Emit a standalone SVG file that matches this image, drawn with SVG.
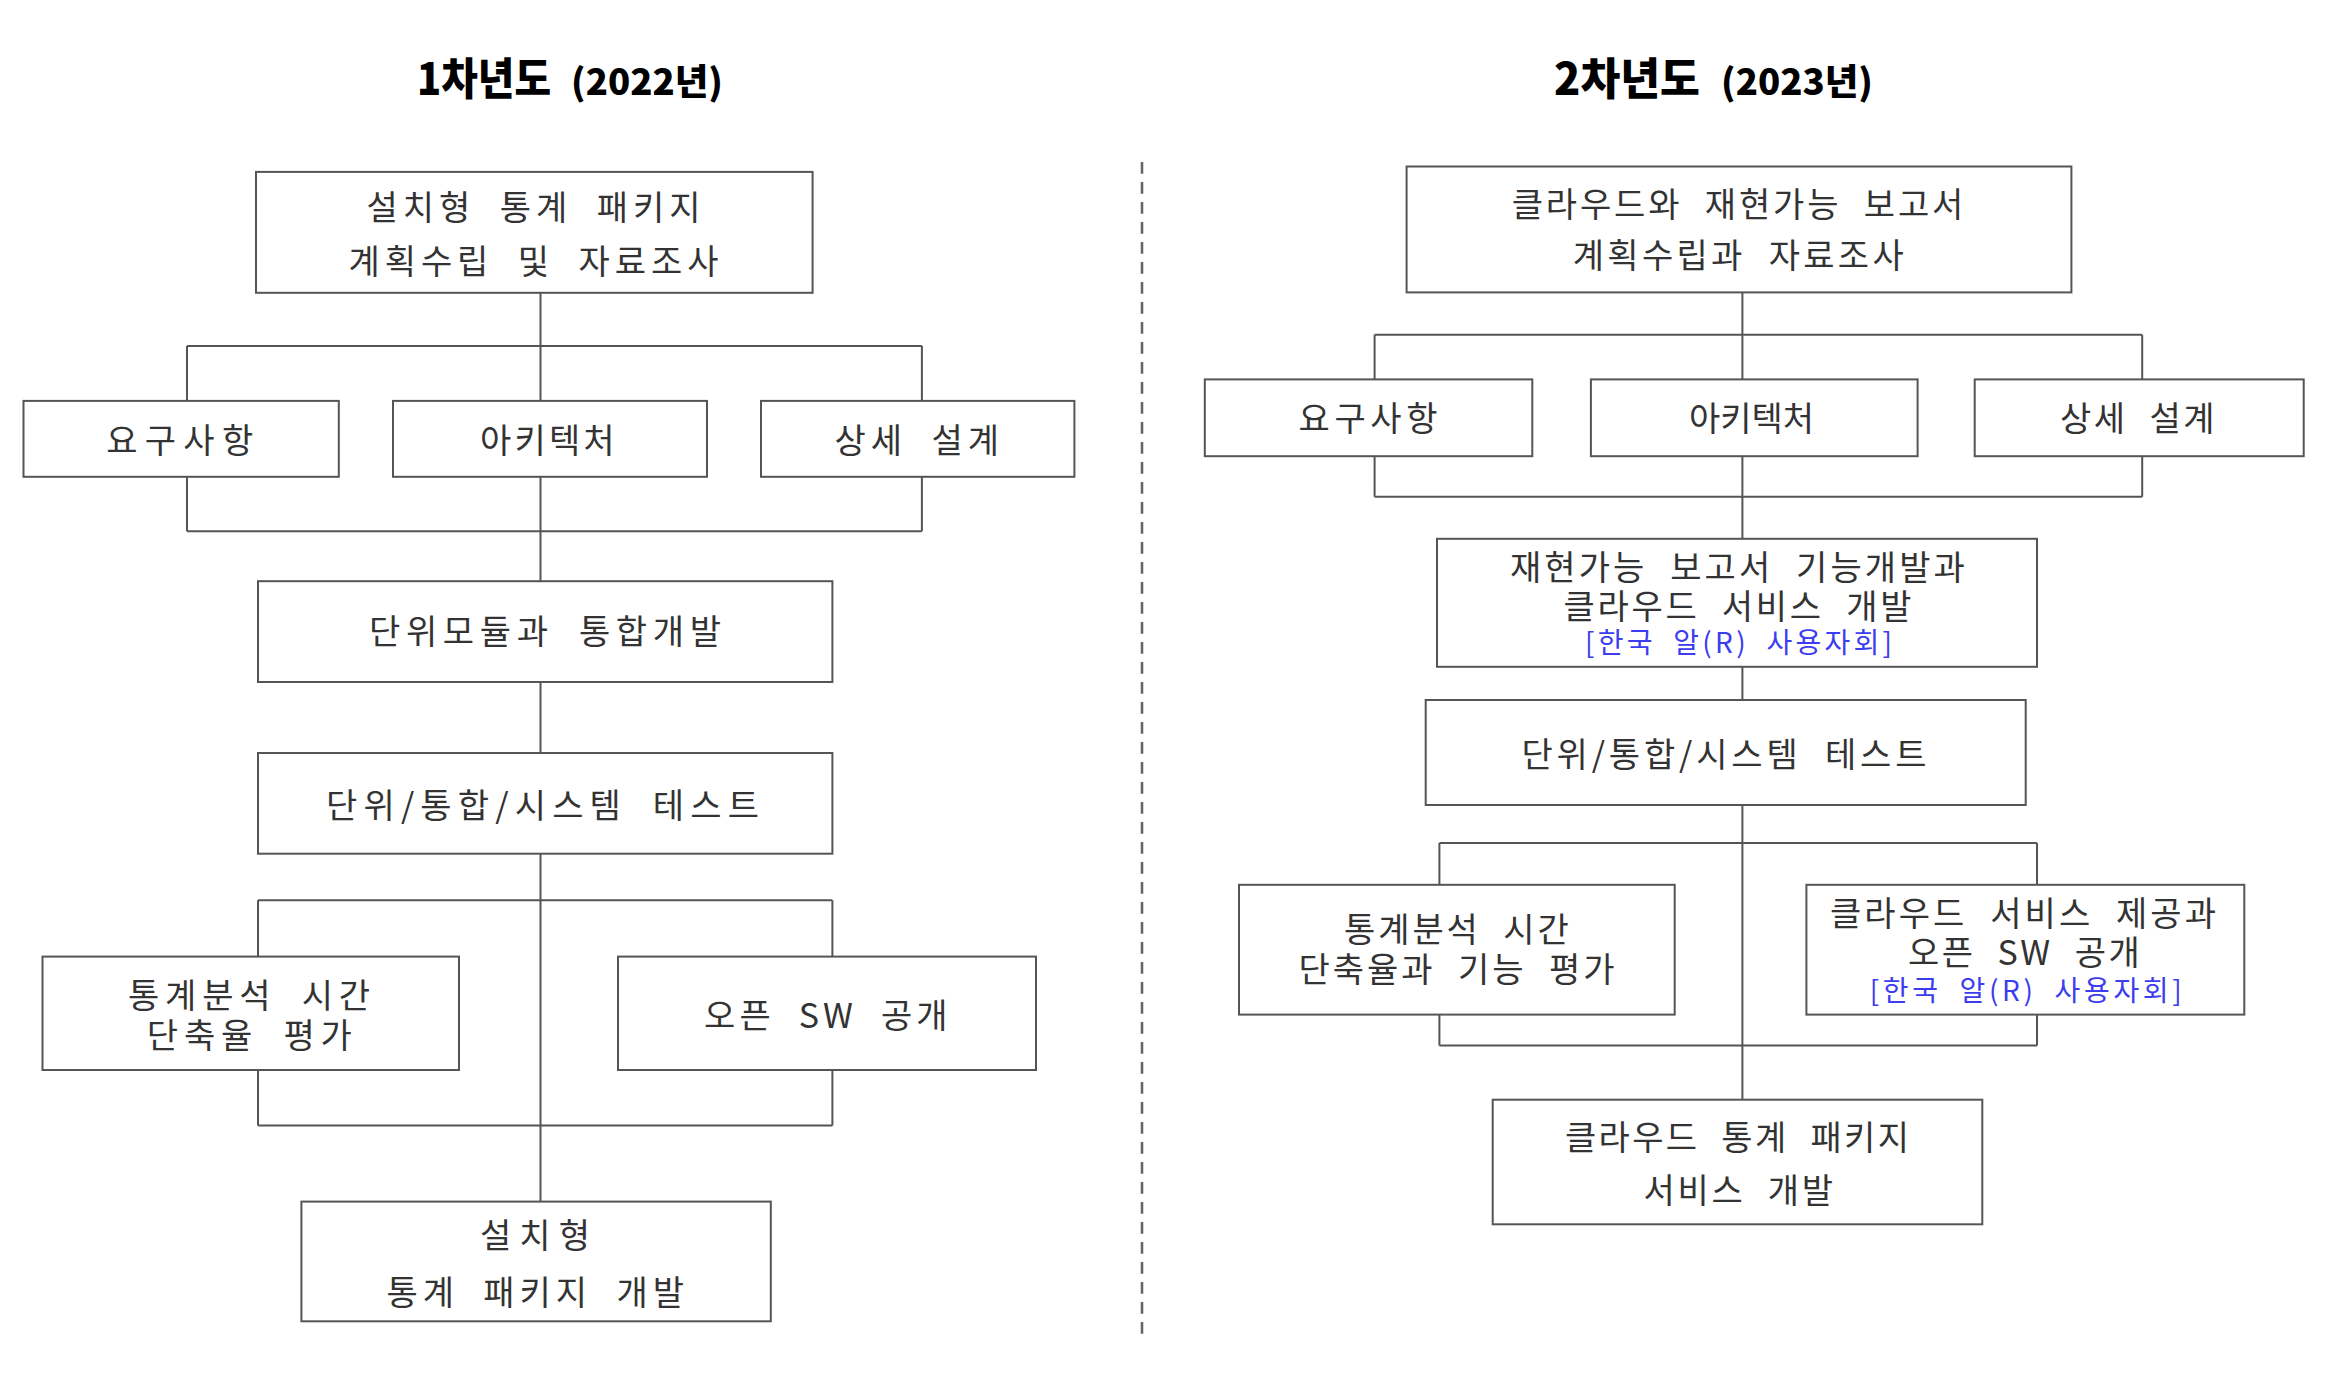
<svg xmlns="http://www.w3.org/2000/svg" width="2344" height="1375" viewBox="0 0 2344 1375">
<style>
.bg{fill:#ffffff}
.box{fill:#ffffff;stroke:#555555;stroke-width:2}
.ln{fill:none;stroke:#555555;stroke-width:2}
.dash{fill:none;stroke:#666666;stroke-width:2.6;stroke-dasharray:11.7 8.3}
.t{font-family:"Noto Sans CJK KR","Noto Sans",sans-serif;font-size:34px;fill:#333333;text-anchor:middle;word-spacing:12px}
.b{font-family:"Noto Sans CJK KR","Noto Sans",sans-serif;font-size:28px;fill:#3c3cf0;text-anchor:middle;word-spacing:8px}
.h1{font-family:"Noto Sans CJK KR","Noto Sans",sans-serif;font-size:44px;font-weight:900;fill:#000000}
.h2{font-family:"Noto Sans CJK KR","Noto Sans",sans-serif;font-size:36px;font-weight:900;fill:#000000}
</style>
<rect class="bg" x="0" y="0" width="2344" height="1375"/>
<g id="titles">
<text class="h1" x="417" y="95" textLength="134" lengthAdjust="spacingAndGlyphs">1차년도</text>
<text class="h2" x="571" y="95" textLength="152" lengthAdjust="spacingAndGlyphs">(2022년)</text>
<text class="h1" x="1554" y="95" textLength="146" lengthAdjust="spacingAndGlyphs">2차년도</text>
<text class="h2" x="1721" y="95" textLength="152" lengthAdjust="spacingAndGlyphs">(2023년)</text>
</g>
<g id="divider">
<path class="dash" d="M1142,162 V1334"/>
</g>
<g id="connectors">
<path class="ln" d="M540.5,292.8 V346 M187,346 H921.9 M187,346 V400.9 M540.5,346 V400.9 M921.9,346 V400.9"/>
<path class="ln" d="M187,476.8 V531.2 M921.9,476.8 V531.2 M187,531.2 H921.9 M540.5,476.8 V581.2"/>
<path class="ln" d="M540.5,682 V753"/>
<path class="ln" d="M540.5,853.7 V1201.6 M258,900.3 H832.4 M258,900.3 V956.6 M832.4,900.3 V956.6"/>
<path class="ln" d="M258,1070 V1125.4 M832.4,1070 V1125.4 M258,1125.4 H832.4"/>
<path class="ln" d="M1742.4,292.4 V334.8 M1374.6,334.8 H2142.2 M1374.6,334.8 V379.4 M1742.4,334.8 V379.4 M2142.2,334.8 V379.4"/>
<path class="ln" d="M1374.6,456.2 V496.8 M2142.2,456.2 V496.8 M1374.6,496.8 H2142.2 M1742.4,456.2 V538.8"/>
<path class="ln" d="M1742.4,666.8 V700"/>
<path class="ln" d="M1742.4,805 V1099.7 M1439.4,843 H2037 M1439.4,843 V884.8 M2037,843 V884.8"/>
<path class="ln" d="M1439.4,1014.6 V1045.6 M2037,1014.6 V1045.6 M1439.4,1045.6 H2037"/>
</g>
<g id="n1-plan">
<rect class="box" x="256" y="171.9" width="556.6" height="120.9"/>
<text class="t" x="533.5" y="220" textLength="334" lengthAdjust="spacing">설치형 통계 패키지</text>
<text class="t" x="533.5" y="274" textLength="370" lengthAdjust="spacing">계획수립 및 자료조사</text>
</g>
<g id="n1-req">
<rect class="box" x="23.5" y="400.9" width="315.3" height="75.9"/>
<text class="t" x="179.7" y="453" textLength="147" lengthAdjust="spacing">요구사항</text>
</g>
<g id="n1-arch">
<rect class="box" x="393" y="400.9" width="314" height="75.9"/>
<text class="t" x="547.3" y="453" textLength="134.6" lengthAdjust="spacing">아키텍처</text>
</g>
<g id="n1-design">
<rect class="box" x="761" y="400.9" width="313.4" height="75.9"/>
<text class="t" x="916.8" y="453" textLength="164.4" lengthAdjust="spacing">상세 설계</text>
</g>
<g id="n1-dev">
<rect class="box" x="258" y="581.2" width="574.4" height="100.8"/>
<text class="t" x="545" y="644" textLength="352" lengthAdjust="spacing">단위모듈과 통합개발</text>
</g>
<g id="n1-test">
<rect class="box" x="258" y="753" width="574.4" height="100.7"/>
<text class="t" x="542.5" y="818" textLength="433" lengthAdjust="spacing">단위/통합/시스템 테스트</text>
</g>
<g id="n1-eval">
<rect class="box" x="42.5" y="956.6" width="416.5" height="113.4"/>
<text class="t" x="249" y="1008" textLength="242" lengthAdjust="spacing">통계분석 시간</text>
<text class="t" x="249.3" y="1048" textLength="205" lengthAdjust="spacing">단축율 평가</text>
</g>
<g id="n1-open">
<rect class="box" x="618" y="956.6" width="418" height="113.4"/>
<text class="t" x="825.8" y="1028" textLength="243.6" lengthAdjust="spacing">오픈 SW 공개</text>
</g>
<g id="n1-final">
<rect class="box" x="301.4" y="1201.6" width="469.4" height="119.7"/>
<text class="t" x="535" y="1248" textLength="110" lengthAdjust="spacing">설치형</text>
<text class="t" x="535.2" y="1305" textLength="297.5" lengthAdjust="spacing">통계 패키지 개발</text>
</g>
<g id="n2-plan">
<rect class="box" x="1406.6" y="166.5" width="664.8" height="125.9"/>
<text class="t" x="1737.5" y="217" textLength="451.6" lengthAdjust="spacing">클라우드와 재현가능 보고서</text>
<text class="t" x="1738.2" y="268" textLength="331" lengthAdjust="spacing">계획수립과 자료조사</text>
</g>
<g id="n2-req">
<rect class="box" x="1204.8" y="379.4" width="327.5" height="76.8"/>
<text class="t" x="1368" y="431" textLength="139" lengthAdjust="spacing">요구사항</text>
</g>
<g id="n2-arch">
<rect class="box" x="1590.9" y="379.4" width="326.7" height="76.8"/>
<text class="t" x="1751.5" y="431" textLength="125" lengthAdjust="spacing">아키텍처</text>
</g>
<g id="n2-design">
<rect class="box" x="1974.7" y="379.4" width="329" height="76.8"/>
<text class="t" x="2137.3" y="431" textLength="154.6" lengthAdjust="spacing">상세 설계</text>
</g>
<g id="n2-dev">
<rect class="box" x="1437" y="538.8" width="600" height="128"/>
<text class="t" x="1737.4" y="580" textLength="454.8" lengthAdjust="spacing">재현가능 보고서 기능개발과</text>
<text class="t" x="1737.5" y="618.5" textLength="348" lengthAdjust="spacing">클라우드 서비스 개발</text>
<text class="b" x="1738.5" y="653" textLength="307" lengthAdjust="spacing">[한국 알(R) 사용자회]</text>
</g>
<g id="n2-test">
<rect class="box" x="1425.7" y="700" width="600" height="105"/>
<text class="t" x="1724" y="767" textLength="405" lengthAdjust="spacing">단위/통합/시스템 테스트</text>
</g>
<g id="n2-eval">
<rect class="box" x="1239" y="884.8" width="435.7" height="129.8"/>
<text class="t" x="1456.4" y="942" textLength="224.8" lengthAdjust="spacing">통계분석 시간</text>
<text class="t" x="1456.5" y="982" textLength="316" lengthAdjust="spacing">단축율과 기능 평가</text>
</g>
<g id="n2-open">
<rect class="box" x="1806.4" y="884.8" width="437.9" height="129.8"/>
<text class="t" x="2023" y="926" textLength="386" lengthAdjust="spacing">클라우드 서비스 제공과</text>
<text class="t" x="2023.9" y="964.5" textLength="232" lengthAdjust="spacing">오픈 SW 공개</text>
<text class="b" x="2025.7" y="1001" textLength="312" lengthAdjust="spacing">[한국 알(R) 사용자회]</text>
</g>
<g id="n2-final">
<rect class="box" x="1492.7" y="1099.7" width="489.6" height="124.6"/>
<text class="t" x="1737" y="1150" textLength="344" lengthAdjust="spacing">클라우드 통계 패키지</text>
<text class="t" x="1738.2" y="1203" textLength="189.5" lengthAdjust="spacing">서비스 개발</text>
</g>
</svg>
